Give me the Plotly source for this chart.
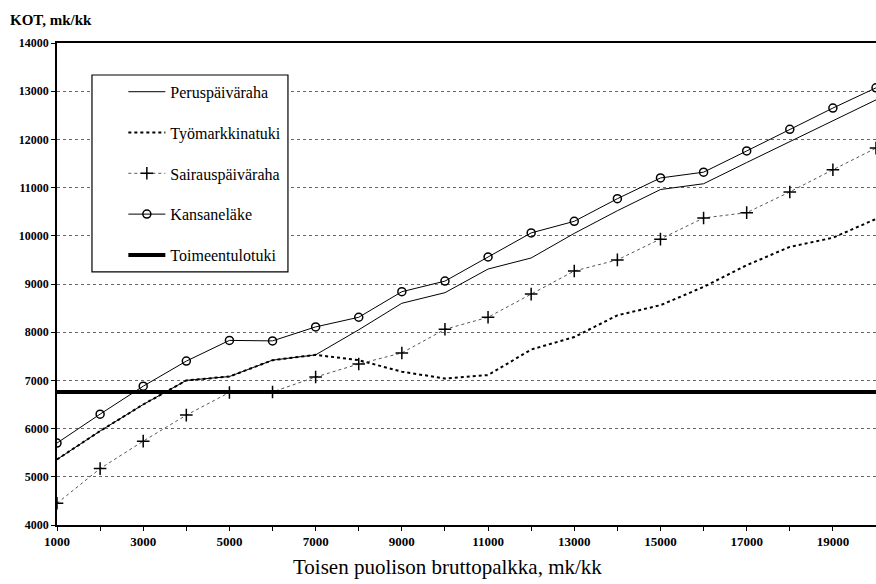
import plotly.graph_objects as go

wages = [1000, 2000, 3000, 4000, 5000, 6000, 7000, 8000, 9000, 10000,
         11000, 12000, 13000, 14000, 15000, 16000, 17000, 18000, 19000, 20000]
perus = [5360, 5950, 6500, 7000, 7080, 7420, 7530, 8050, 8600, 8820,
         9310, 9540, 10050, 10520, 10960, 11080, 11520, 11950, 12390, 12820]
tyomarkkina = [5360, 5950, 6500, 7000, 7080, 7420, 7530, 7420, 7180, 7040,
               7110, 7640, 7900, 8350, 8560, 8940, 9390, 9770, 9960, 10350]
sairaus = [4450, 5170, 5740, 6280, 6750, 6760, 7070, 7340, 7570, 8060,
           8310, 8790, 9270, 9500, 9930, 10370, 10480, 10910, 11370, 11820]
kansanelake = [5700, 6300, 6880, 7400, 7830, 7820, 8110, 8310, 8840, 9060,
               9560, 10060, 10300, 10770, 11200, 11320, 11760, 12210, 12650, 13070]
toimeentulo = [6760] * 20

x_ticks = [1000, 3000, 5000, 7000, 9000, 11000, 13000, 15000, 17000, 19000]
y_ticks = [4000, 5000, 6000, 7000, 8000, 9000, 10000, 11000, 12000, 13000, 14000]

FONT = "Liberation Serif"

fig = go.Figure()
fig.add_trace(go.Scatter(x=wages, y=perus, name="Peruspäiväraha", mode="lines",
                         line=dict(color="black", width=1), legendgroup="a"))
fig.add_trace(go.Scatter(x=wages, y=tyomarkkina, name="Työmarkkinatuki", mode="lines",
                         line=dict(color="black", width=2, dash="dot"), legendgroup="b"))
fig.add_trace(go.Scatter(x=wages, y=sairaus, name="Sairauspäiväraha", mode="lines+markers",
                         line=dict(color="#555", width=1, dash="dot"),
                         marker=dict(symbol="cross-thin", size=9, color="black",
                                     line=dict(color="black", width=1.5)),
                         legendgroup="c"))
fig.add_trace(go.Scatter(x=wages, y=kansanelake, name="Kansaneläke", mode="lines+markers",
                         line=dict(color="black", width=1),
                         marker=dict(symbol="circle-open", size=8, color="black",
                                     line=dict(color="black", width=1.5)),
                         legendgroup="d"))
fig.add_trace(go.Scatter(x=wages, y=toimeentulo, name="Toimeentulotuki", mode="lines",
                         line=dict(color="black", width=4), legendgroup="e"))

fig.update_layout(
    width=876, height=584,
    margin=dict(l=57, r=0, t=43, b=59, autoexpand=False),
    paper_bgcolor="white", plot_bgcolor="white",
    font=dict(family=FONT, color="black"),
    showlegend=True,
    legend=dict(x=0.081, y=0.934, xanchor="left", yanchor="top",
                borderwidth=0, bgcolor="rgba(0,0,0,0)",
                font=dict(family=FONT, size=16, color="black"),
                tracegroupgap=17, traceorder="grouped",
                itemwidth=37),
    shapes=[dict(type="rect", xref="paper", yref="paper",
                 x0=0.0427, x1=0.282, y0=0.525, y1=0.9336,
                 line=dict(color="black", width=1.2), fillcolor="white", layer="above")],
    annotations=[
        dict(text="KOT, mk/kk", x=0, y=1, xref="paper", yref="paper",
             xanchor="left", yanchor="middle", showarrow=False,
             xshift=-49, yshift=23,
             font=dict(family=FONT, size=15, color="black", weight="bold")),
        dict(text="Toisen puolison bruttopalkka, mk/kk", x=0.477, y=0, xref="paper", yref="paper",
             xanchor="center", yanchor="middle", showarrow=False, yshift=-42,
             font=dict(family=FONT, size=21, color="black")),
    ],
)
fig.update_xaxes(range=[1000, 20000], tickvals=x_ticks, ticktext=[str(v) for v in x_ticks],
                 automargin=False,
                 showline=True, linecolor="black", linewidth=1.5, mirror=True,
                 ticks="outside", ticklen=4, tickcolor="black",
                 minor=dict(dtick=1000, tick0=1000, ticks="outside", ticklen=4, tickcolor="black"),
                 showgrid=False, zeroline=False,
                 tickfont=dict(family=FONT, size=13, color="black", weight="bold"))
fig.update_yaxes(range=[4000, 14000], tickvals=y_ticks, ticktext=[str(v) for v in y_ticks],
                 automargin=False,
                 showline=True, linecolor="black", linewidth=1.5, mirror=True,
                 ticks="outside", ticklen=4, tickcolor="black",
                 showgrid=True, gridcolor="#666", griddash="dot", gridwidth=1,
                 zeroline=False,
                 tickfont=dict(family=FONT, size=12, color="black", weight="bold"))

fig.write_html("out.html", config={"displayModeBar": False},
               post_script="document.body.style.margin='0';")
